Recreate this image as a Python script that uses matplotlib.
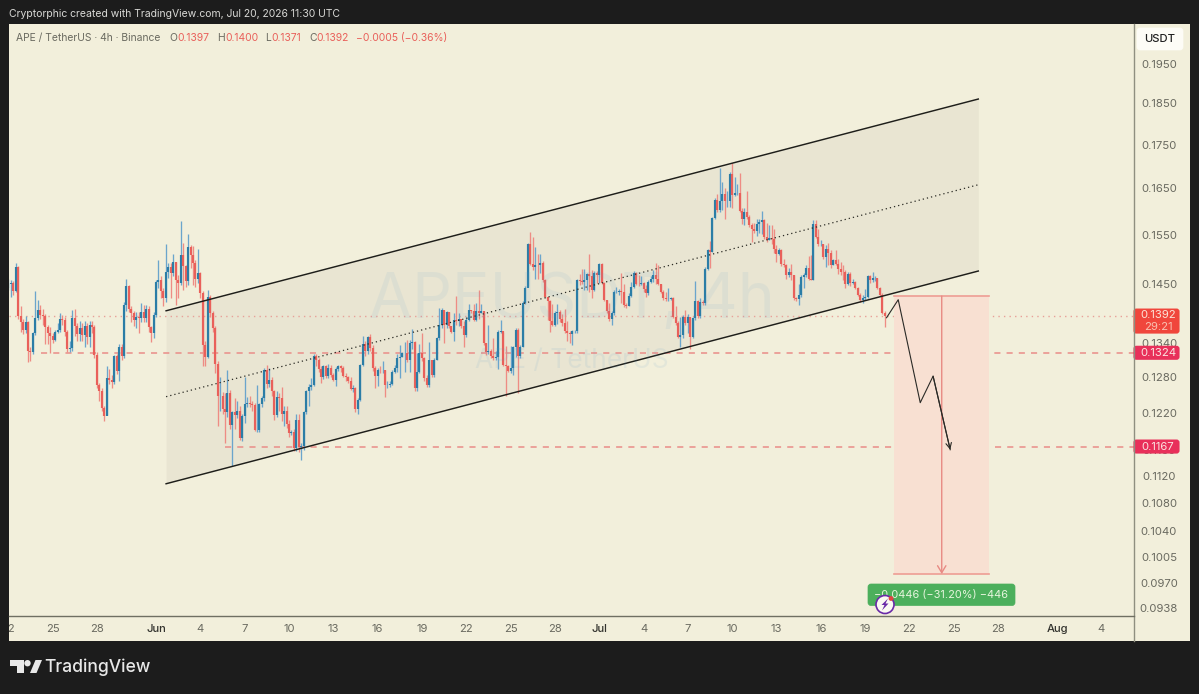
import matplotlib
matplotlib.use('Agg')
from matplotlib import pyplot as plt
from matplotlib.patches import FancyBboxPatch, Rectangle, Circle, Polygon
import numpy as np

# 4h candles, May 22 00:00 onward. Each candle opens at the previous close.
first_open = 0.1445
closes = [
    .1452, .1455, .1438, .1487, .1391, .1380, .1365, .1380, .1327, .1325,
    .1359, .1387, .1403, .1393, .1392, .1371, .1359, .1354, .1347, .1362,
    .1365, .1385, .1383, .1362, .1330, .1332, .1387, .1372, .1358, .1368,
    .1356, .1372, .1353, .1375, .1371, .1320, .1267, .1258, .1229, .1216,
    .1280, .1277, .1273, .1318, .1292, .1335, .1319, .1412, .1448, .1404,
    .1396, .1384, .1390, .1387, .1398, .1387, .1405, .1370, .1359, .1393,
    .1457, .1461, .1438, .1425, .1477, .1487, .1475, .1497, .1460, .1454,
    .1510, .1488, .1458, .1526, .1510, .1494, .1463, .1474, .1435, .1338,
    .1317, .1427, .1397, .1369, .1305, .1250, .1250, .1228, .1222, .1255,
    .1202, .1222, .1217, .1225, .1180, .1216, .1235, .1238, .1236, .1234,
    .1194, .1194, .1235, .1246, .1294, .1270, .1277, .1258, .1218, .1248,
    .1245, .1220, .1225, .1203, .1188, .1190, .1164, .1210, .1166, .1168,
    .1222, .1258, .1265, .1268, .1318, .1311, .1295, .1281, .1300, .1284,
    .1298, .1285, .1276, .1296, .1300, .1297, .1283, .1281, .1274, .1261,
    .1263, .1228, .1243, .1303, .1340, .1327, .1352, .1333, .1298, .1283,
    .1294, .1293, .1294, .1268, .1268, .1270, .1291, .1297, .1314, .1317,
    .1323, .1323, .1311, .1341, .1344, .1262, .1291, .1323, .1314, .1280,
    .1268, .1311, .1285, .1311, .1350, .1375, .1403, .1375, .1398, .1372,
    .1362, .1384, .1381, .1385, .1372, .1356, .1384, .1403, .1400, .1384,
    .1400, .1397, .1400, .1341, .1326, .1328, .1318, .1315, .1316, .1362,
    .1363, .1303, .1300, .1292, .1297, .1335, .1366, .1318, .1335, .1416,
    .1445, .1532, .1493, .1487, .1491, .1490, .1495, .1460, .1428, .1419,
    .1381, .1375, .1397, .1399, .1386, .1378, .1364, .1360, .1358, .1363,
    .1363, .1460, .1458, .1456, .1460, .1472, .1468, .1440, .1475, .1470,
    .1492, .1455, .1422, .1400, .1385, .1397, .1437, .1437, .1438, .1437,
    .1412, .1410, .1430, .1447, .1475, .1453, .1452, .1455, .1443, .1435,
    .1457, .1463, .1470, .1463, .1452, .1437, .1425, .1423, .1424, .1425,
    .1390, .1378, .1353, .1356, .1390, .1378, .1390, .1353, .1387, .1420,
    .1391, .1418, .1415, .1483, .1520, .1517, .1587, .1627, .1605, .1623,
    .1640, .1625, .1625, .1685, .1638, .1642, .1642, .1603, .1586, .1600,
    .1590, .1572, .1565, .1560, .1575, .1578, .1583, .1548, .1540, .1545,
    .1544, .1523, .1513, .1520, .1492, .1490, .1470, .1477, .1470, .1425,
    .1423, .1432, .1467, .1470, .1484, .1463, .1460, .1575, .1548, .1532,
    .1532, .1507, .1523, .1515, .1490, .1500, .1493, .1483, .1477, .1476,
    .1453, .1473, .1455, .1456, .1445, .1432, .1422, .1425, .1428, .1468,
    .1461, .1464, .1464, .1445, .1432, .1397, .1392,
]
highs = [
    .1462, .1460, .1458, .1494, .1488, .1410, .1385, .1392, .1382, .1335,
    .1362, .1438, .1422, .1412, .1405, .1395, .1375, .1370, .1360, .1366,
    .1378, .1396, .1393, .1390, .1365, .1345, .1403, .1405, .1378, .1382,
    .1378, .1382, .1378, .1382, .1382, .1375, .1325, .1272, .1262, .1232,
    .1300, .1295, .1285, .1320, .1322, .1339, .1340, .1418, .1462, .1450,
    .1410, .1400, .1398, .1398, .1416, .1412, .1412, .1410, .1372, .1398,
    .1460, .1500, .1468, .1445, .1533, .1495, .1495, .1513, .1497, .1470,
    .1580, .1534, .1490, .1554, .1530, .1528, .1500, .1522, .1476, .1438,
    .1345, .1440, .1432, .1400, .1372, .1310, .1282, .1256, .1255, .1294,
    .1260, .1225, .1245, .1240, .1232, .1220, .1282, .1248, .1250, .1240,
    .1238, .1268, .1238, .1250, .1298, .1303, .1298, .1282, .1260, .1258,
    .1254, .1265, .1232, .1232, .1210, .1194, .1195, .1220, .1220, .1172,
    .1225, .1260, .1270, .1280, .1322, .1322, .1315, .1300, .1303, .1302,
    .1305, .1303, .1288, .1299, .1303, .1303, .1300, .1288, .1284, .1282,
    .1268, .1265, .1246, .1305, .1355, .1345, .1355, .1357, .1338, .1300,
    .1297, .1300, .1310, .1294, .1275, .1275, .1294, .1303, .1322, .1338,
    .1326, .1344, .1347, .1347, .1367, .1346, .1323, .1340, .1360, .1316,
    .1285, .1344, .1311, .1314, .1353, .1406, .1406, .1400, .1400, .1398,
    .1369, .1397, .1430, .1397, .1384, .1381, .1390, .1414, .1403, .1414,
    .1416, .1440, .1414, .1398, .1341, .1375, .1331, .1350, .1328, .1365,
    .1384, .1362, .1337, .1303, .1337, .1337, .1369, .1369, .1338, .1419,
    .1448, .1535, .1557, .1548, .1527, .1512, .1512, .1498, .1463, .1428,
    .1422, .1413, .1400, .1413, .1403, .1394, .1405, .1381, .1363, .1366,
    .1365, .1463, .1472, .1483, .1482, .1475, .1513, .1480, .1478, .1478,
    .1494, .1495, .1457, .1422, .1416, .1400, .1440, .1447, .1442, .1475,
    .1453, .1416, .1435, .1457, .1478, .1476, .1470, .1468, .1457, .1450,
    .1460, .1468, .1480, .1495, .1490, .1453, .1440, .1437, .1445, .1428,
    .1428, .1410, .1381, .1390, .1393, .1402, .1395, .1387, .1390, .1458,
    .1422, .1425, .1422, .1486, .1523, .1538, .1590, .1630, .1640, .1698,
    .1667, .1652, .1645, .1688, .1709, .1678, .1662, .1686, .1608, .1608,
    .1647, .1593, .1576, .1576, .1586, .1586, .1602, .1586, .1576, .1573,
    .1573, .1565, .1530, .1525, .1523, .1503, .1492, .1484, .1492, .1470,
    .1428, .1453, .1470, .1474, .1490, .1508, .1510, .1583, .1583, .1563,
    .1542, .1532, .1530, .1535, .1520, .1503, .1520, .1503, .1497, .1490,
    .1480, .1477, .1477, .1463, .1458, .1447, .1434, .1432, .1442, .1470,
    .1470, .1477, .1468, .1465, .1447, .1434, .1400,
]
lows = [
    .1440, .1428, .1432, .1436, .1385, .1362, .1358, .1360, .1308, .1310,
    .1322, .1356, .1384, .1385, .1375, .1340, .1340, .1323, .1342, .1345,
    .1360, .1362, .1375, .1355, .1325, .1326, .1328, .1355, .1345, .1345,
    .1345, .1334, .1340, .1335, .1360, .1315, .1262, .1240, .1225, .1208,
    .1218, .1270, .1262, .1270, .1286, .1274, .1312, .1315, .1400, .1398,
    .1380, .1372, .1368, .1360, .1380, .1380, .1380, .1362, .1344, .1350,
    .1390, .1445, .1425, .1410, .1418, .1465, .1425, .1468, .1412, .1425,
    .1450, .1440, .1447, .1450, .1485, .1450, .1447, .1455, .1425, .1300,
    .1300, .1315, .1390, .1362, .1288, .1200, .1225, .1220, .1172, .1215,
    .1195, .1137, .1195, .1212, .1177, .1175, .1205, .1230, .1230, .1225,
    .1191, .1190, .1190, .1230, .1240, .1262, .1265, .1250, .1210, .1215,
    .1225, .1208, .1200, .1197, .1182, .1185, .1160, .1160, .1158, .1146,
    .1162, .1220, .1232, .1260, .1266, .1300, .1290, .1272, .1278, .1280,
    .1280, .1281, .1274, .1266, .1292, .1291, .1281, .1275, .1271, .1260,
    .1256, .1222, .1220, .1240, .1300, .1318, .1322, .1328, .1292, .1263,
    .1266, .1288, .1288, .1248, .1262, .1265, .1268, .1288, .1290, .1280,
    .1317, .1291, .1308, .1291, .1330, .1258, .1258, .1288, .1309, .1274,
    .1265, .1265, .1282, .1282, .1311, .1347, .1369, .1341, .1369, .1369,
    .1360, .1345, .1375, .1372, .1369, .1334, .1353, .1381, .1397, .1381,
    .1381, .1385, .1397, .1338, .1320, .1322, .1315, .1312, .1312, .1295,
    .1359, .1300, .1250, .1290, .1288, .1285, .1316, .1255, .1314, .1335,
    .1413, .1448, .1490, .1480, .1463, .1462, .1475, .1457, .1425, .1384,
    .1362, .1372, .1372, .1376, .1380, .1372, .1359, .1345, .1342, .1338,
    .1360, .1360, .1450, .1453, .1440, .1441, .1436, .1425, .1438, .1455,
    .1455, .1452, .1419, .1397, .1382, .1375, .1393, .1434, .1432, .1415,
    .1409, .1406, .1410, .1428, .1444, .1451, .1448, .1450, .1437, .1428,
    .1432, .1455, .1457, .1452, .1450, .1434, .1422, .1420, .1419, .1422,
    .1387, .1375, .1350, .1335, .1350, .1375, .1360, .1330, .1350, .1384,
    .1388, .1388, .1412, .1412, .1480, .1485, .1517, .1585, .1600, .1600,
    .1605, .1585, .1612, .1612, .1608, .1635, .1638, .1600, .1575, .1573,
    .1586, .1568, .1537, .1556, .1550, .1555, .1553, .1544, .1537, .1541,
    .1533, .1515, .1497, .1510, .1489, .1487, .1463, .1466, .1460, .1422,
    .1420, .1412, .1428, .1444, .1467, .1460, .1460, .1460, .1545, .1528,
    .1528, .1503, .1486, .1490, .1484, .1490, .1490, .1473, .1470, .1460,
    .1445, .1450, .1449, .1453, .1442, .1429, .1418, .1416, .1422, .1426,
    .1454, .1457, .1459, .1442, .1429, .1394, .1371,
]

# axis labelling
date_ticks = [-10, -7, -4, 0, 3, 6, 9, 12, 15, 18, 21, 24, 27, 30, 33, 36, 39, 42,
              45, 48, 51, 54, 57, 61, 64]
date_labels = ['22', '25', '28', 'Jun', '4', '7', '10', '13', '16', '19', '22', '25', '28',
               'Jul', '4', '7', '10', '13', '16', '19', '22', '25', '28', 'Aug', '4']
price_ticks = [0.1950, 0.1850, 0.1750, 0.1650, 0.1550, 0.1450, 0.1395, 0.1340, 0.1280,
               0.1220, 0.1160, 0.1120, 0.1080, 0.1040, 0.1005, 0.0970, 0.0938]

# drawings, in (day since Jun 1, price)
channel_days = [0.68, 55.66]
channel_upper = [0.1401, 0.1863]
channel_mid = [0.1248, 0.1660]
channel_lower = [0.1110, 0.1478]
path_days = [49.45, 50.24, 51.73, 52.6, 53.76]
path_prices = [0.1388, 0.1422, 0.1238, 0.1283, 0.1162]
last_price = 0.1392
level_one = 0.1324
level_two = 0.1167
short_days = [49.97, 56.4]
short_entry = 0.1429
short_target = 0.0983

BG = '#1c1c1c'
PANEL = '#f2efdb'
GREY = '#6a6a60'
RED = '#e9605a'
BLUE = '#2b7da6'
FONT = 'Inter'
W, H = 1199, 694

plt.rcParams['font.family'] = [FONT, 'DejaVu Sans']

fig = plt.figure(figsize=(W / 100, H / 100), dpi=100, facecolor=BG)


def box(x0, y0, x1, y1):
    # pixel box (top-left origin) to figure fractions
    return [x0 / W, 1 - y1 / H, (x1 - x0) / W, (y1 - y0) / H]


ax = fig.add_axes(box(9, 24, 1134, 616), facecolor=PANEL)
ax.set_yscale('log')
ax.set_ylim(0.0929, 0.2061)
ax.set_xlim(-9.953, 66.2)
ax.set_xticks([])
ax.yaxis.set_major_locator(matplotlib.ticker.NullLocator())
ax.yaxis.set_minor_locator(matplotlib.ticker.NullLocator())
for s in ax.spines.values():
    s.set_visible(False)

# bottom date strip
axt = fig.add_axes(box(9, 616, 1134, 641), facecolor=PANEL, sharex=ax)
axt.set_ylim(0, 1)
axt.axis('off')
axt.add_patch(Rectangle((0, 0), 1, 1, transform=axt.transAxes, color=PANEL, zorder=0))
for d, lab in zip(date_ticks, date_labels):
    month = lab in ('Jun', 'Jul', 'Aug')
    axt.text(d, 0.5, lab, ha='center', va='center', fontsize=8.1, clip_on=True,
             color='#33332e' if month else GREY, fontweight='medium' if month else 'normal')

# full-figure overlay in pixels for the price scale and labels
ov = fig.add_axes([0, 0, 1, 1], facecolor='none', zorder=5)
ov.set_xlim(0, W)
ov.set_ylim(H, 0)
ov.axis('off')


def price_y(price):
    return H - ax.transData.transform((0, price))[1]


ov.add_patch(Rectangle((1134, 24), 56, 617, color=PANEL, zorder=0, lw=0))
ov.plot([1134, 1134], [24, 641], color='#8f8f80', lw=1.0, zorder=4)
ov.plot([9, 1134], [616, 616], color='#6f6f62', lw=1.0, zorder=4)

# watermark
ov.text(572, 301, 'APEUSDT, 4h', fontsize=45, color='#5f9fd0', alpha=0.09, ha='center', va='center', zorder=1)
ov.text(572, 361, 'APE / TetherUS', fontsize=19, color='#5f9fd0', alpha=0.10, ha='center', va='center', zorder=1)

# channel
ax.fill_between(channel_days, channel_lower, channel_upper, color='#e9e5d2', lw=0, zorder=1)

# levels and last price
ax.axhline(last_price, color='#e8a098', lw=1.0, ls=(0, (1, 3)), zorder=2)
ax.plot([-7.8, 66.2], [level_one, level_one], color='#ea8d88', lw=1.1, ls=(0, (4, 4)), zorder=2)
ax.plot([4.7, 66.2], [level_two, level_two], color='#ea8d88', lw=1.1, ls=(0, (4, 4)), zorder=2)

# short position box
ax.fill_between(short_days, short_target, short_entry, color='#f8e0d2', lw=0, zorder=2)
ax.plot(short_days, [short_entry, short_entry], color='#ee9d94', lw=1.2, zorder=3)
ax.plot(short_days, [short_target, short_target], color='#ee9d94', lw=1.2, zorder=3)
short_mid = sum(short_days) / 2
ax.annotate('', xy=(short_mid, short_target), xytext=(short_mid, short_entry), zorder=3,
            arrowprops=dict(arrowstyle='->,head_width=0.3,head_length=0.5', color='#e88a84', lw=1.0,
                            shrinkA=0, shrinkB=0))

# candles
days = np.arange(len(closes)) / 6 - 10
opens = np.array([first_open] + closes[:-1])
closes_a = np.array(closes)
up = closes_a >= opens
wick_colors = np.where(up, '#6ba5cc', '#ee8c84')
body_colors = np.where(up, BLUE, RED)
ax.vlines(days, lows, highs, colors=wick_colors, lw=0.95, zorder=3)
ax.vlines(days, opens, closes_a, colors=body_colors, lw=1.55, zorder=3.2)

# channel lines on top of the candles
ax.plot(channel_days, channel_upper, color='#1e1e1a', lw=1.05, zorder=4)
ax.plot(channel_days, channel_lower, color='#1e1e1a', lw=1.05, zorder=4)
ax.plot(channel_days, channel_mid, color='#2a2a24', lw=0.9, ls=(0, (1, 2.4)), zorder=4)

# projected path
ax.plot(path_days, path_prices, color='#2a2a26', lw=0.8, zorder=4)
ax.annotate('', xy=(path_days[-1], path_prices[-1]), xytext=(path_days[-2], path_prices[-2]), zorder=4,
            arrowprops=dict(arrowstyle='->,head_width=0.2,head_length=0.4', color='#2a2a26', lw=0.8,
                            shrinkA=0, shrinkB=0))

# price scale labels
for p in price_ticks:
    ov.text(1159, price_y(p), f'{p:.4f}', ha='center', va='center', fontsize=8.2, color=GREY, zorder=1)


def tag(y0, y1, color):
    ov.add_patch(FancyBboxPatch((1134.5, y0 + 1), 44, y1 - y0 - 2, boxstyle='round,pad=0,rounding_size=2',
                                mutation_aspect=1, fc=color, ec=color, lw=1.5, zorder=3))


y_last = price_y(last_price)
tag(y_last - 7, y_last + 18, '#f0463c')
ov.text(1158, y_last - 0.5, f'{last_price:.4f}', ha='center', va='center', fontsize=8.2, color='#fbe3d6', zorder=6)
ov.text(1158, y_last + 11, '29:21', ha='center', va='center', fontsize=8.2, color='#f9c0b0', zorder=6)
for level in (level_one, level_two):
    y = price_y(level)
    tag(y - 7, y + 7, '#e8305a')
    ov.text(1158, y, f'{level:.4f}', ha='center', va='center', fontsize=8.2, color='#fbe3e0', zorder=6)

# currency chip
ov.add_patch(FancyBboxPatch((1137, 28), 46, 22, boxstyle='round,pad=0,rounding_size=3', fc='#fdfcf6',
                            ec='#fdfcf6', lw=0.5, zorder=3))
ov.text(1160, 39, 'USDT', ha='center', va='center', fontsize=8.1, color='#1f1f1f', fontweight='medium', zorder=6)

# header
ov.text(9, 14, 'Cryptorphic created with TradingView.com, Jul 20, 2026 11:30 UTC', ha='left', va='center',
        fontsize=7.5, color='#d9d9d6')
ov.text(16, 38, 'APE / TetherUS · 4h · Binance', ha='left', va='center', fontsize=7.45, color=GREY)
for x, s, c in [(169, 'O', GREY), (177, '0.1397', RED), (217, 'H', GREY), (225, '0.1400', RED),
                (265, 'L', GREY), (271, '0.1371', RED), (309, 'C', GREY), (316, '0.1392', RED),
                (356, '−0.0005 (−0.36%)', RED)]:
    ov.text(x, 38, s, ha='left', va='center', fontsize=7.45, color=c)

# result label with the alert badge over it
ov.add_patch(FancyBboxPatch((868, 584), 147, 21.5, boxstyle='round,pad=0,rounding_size=3', fc='#4caf5c',
                            ec='#4caf5c', lw=0.5, zorder=3))
ov.text(941, 595, '−0.0446 (−31.20%) −446', ha='center', va='center', fontsize=7.9, color='#e6f5dc', zorder=6)
ov.add_patch(Circle((885, 604.5), 9, fc='#fbf9f2', ec='#6a2aa8', lw=1.2, zorder=7))
ov.add_patch(Polygon([(888, 598.5), (881.5, 605), (884.5, 605), (882, 610.5), (888.5, 603.5), (885.5, 603.5)],
                     fc='#6a2aa8', ec='none', zorder=8))
ov.add_patch(Circle((891, 598.5), 2.4, fc='#e04540', ec='none', zorder=9))

# footer wordmark
ov.add_patch(Polygon([(10, 660), (24, 660), (24, 673), (17, 673), (17, 666), (10, 666)], fc='#e8e8e8', ec='none'))
ov.add_patch(Circle((27.5, 663.2), 3.2, fc='#e8e8e8', ec='none'))
ov.add_patch(Polygon([(30, 673), (35.5, 660), (42, 660), (36.5, 673)], fc='#e8e8e8', ec='none'))
ov.text(44, 667, 'TradingView', ha='left', va='center', fontsize=12.6, color='#e8e8e8', fontweight='medium')

fig.savefig('out.png', dpi=100, facecolor=BG)
